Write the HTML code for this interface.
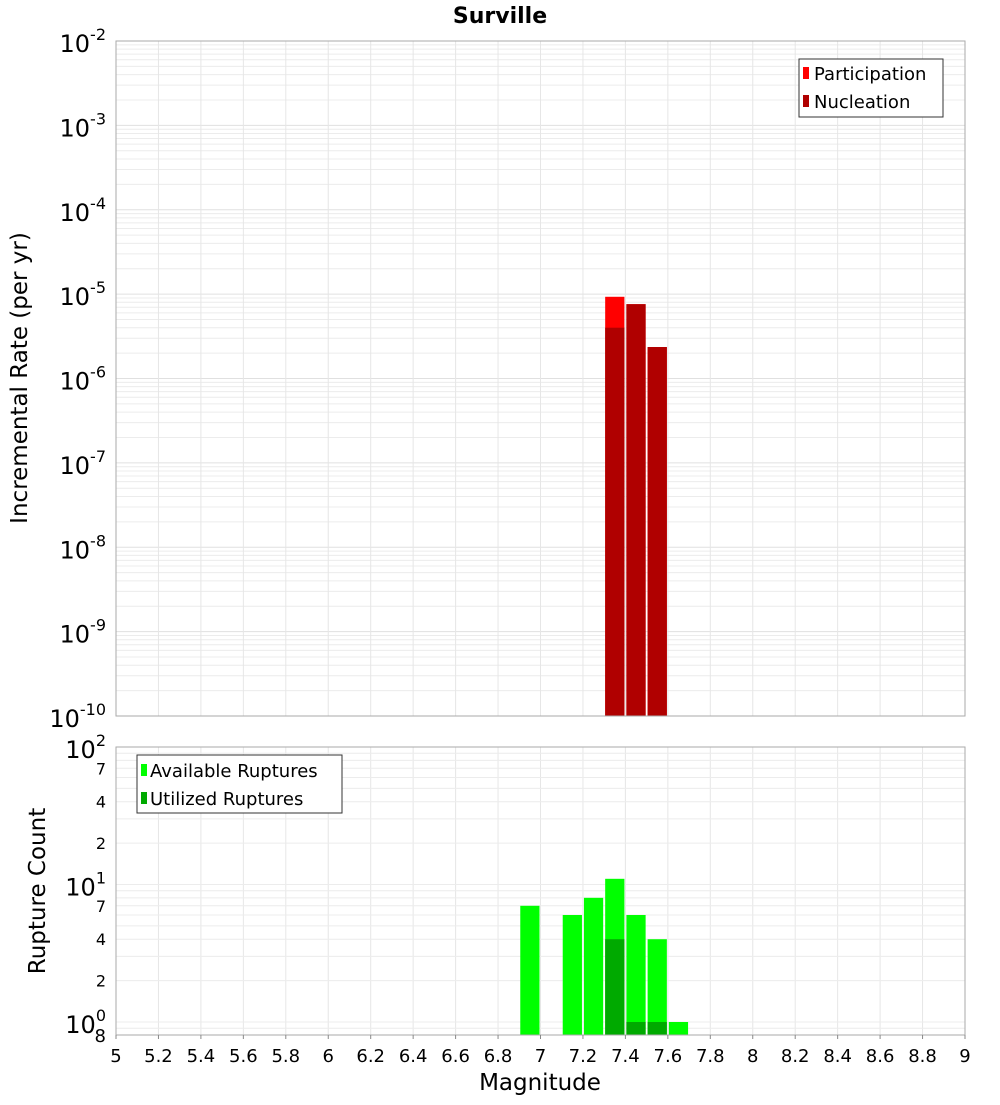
<!DOCTYPE html>
<html><head><meta charset="utf-8"><style>
body{margin:0;background:#fff;font-family:"Liberation Sans","DejaVu Sans",sans-serif}
svg text{font-family:"DejaVu Sans","Liberation Sans",sans-serif}
</style></head><body>
<svg id="c" width="1000" height="1100" xmlns="http://www.w3.org/2000/svg">
<rect width="1000" height="1100" fill="#fff"/>
<text x="500" y="23" text-anchor="middle" font-size="22" font-weight="bold">Surville</text>
<g id="top"></g><g id="bot"></g>
<text transform="translate(27,378) rotate(-90)" text-anchor="middle" font-size="23">Incremental Rate (per yr)</text>
<text transform="translate(45,891) rotate(-90)" text-anchor="middle" font-size="23">Rupture Count</text>
<text x="540" y="1090" text-anchor="middle" font-size="23">Magnitude</text>
</svg>
<script>
const mags=[7.35,7.45,7.55];
const participation=[9.3e-6,7.6e-6,2.36e-6];
const nucleation=[4.0e-6,7.6e-6,2.36e-6];
const countMags=[6.95,7.15,7.25,7.35,7.45,7.55,7.65];
const available=[7,6,8,11,6,4,1];
const utilMags=[7.35,7.45,7.55];
const utilized=[4,1,1];
const xTicks=["5","5.2","5.4","5.6","5.8","6","6.2","6.4","6.6","6.8","7","7.2","7.4","7.6","7.8","8","8.2","8.4","8.6","8.8","9"];

const NS="http://www.w3.org/2000/svg";
const L=116,R=965;
const X=m=>L+(m-5)/4*(R-L);
const T0=41,T1=716; const YT=v=>T0+(-2-Math.log10(v))*(T1-T0)/8;
const B0=747,B1=1035; const D=137.5; const YB=v=>B0+(2-Math.log10(v))*D;
function mk(p,tag,a){const e=document.createElementNS(NS,tag);for(const k in a)e.setAttribute(k,a[k]);p.appendChild(e);return e;}
const gTop=document.getElementById('top'),gBot=document.getElementById('bot');

for(let d=-10;d<-2;d++)for(let k=1;k<10;k++){const y=YT(k*Math.pow(10,d));
 const l=mk(gTop,'line',{x1:L,x2:R,y1:y,y2:y,stroke:k==1?'#e0e0e0':'#ececec','stroke-width':1});
 
 }
xTicks.forEach((t,i)=>{const x=X(+t);[gTop,gBot].forEach((g,j)=>{
 const l=mk(g,'line',{x1:x,x2:x,y1:j?B0:T0,y2:j?B1:T1,stroke:'#e6e6e6'});
 
 });});
for(let d=-10;d<=-2;d++){const y=YT(Math.pow(10,d));
 const t=mk(gTop,'text',{x:106,y:y+11,'text-anchor':'end','font-size':24});
 
 
 t.textContent='10';const s=mk(t,'tspan',{dy:-12,'font-size':16});s.textContent=String(d);}
const w=(R-L)/40;
mags.forEach((m,i)=>{
 const y=YT(participation[i]);const r=mk(gTop,'rect',{x:X(m)-w/2+1,y:y,width:w-2,height:T1-y,fill:'#ff0000'});
 
 
 const y2=YT(nucleation[i]);const r2=mk(gTop,'rect',{x:X(m)-w/2+1,y:y2,width:w-2,height:T1-y2,fill:'#b00000'});
 
 });
mk(gTop,'rect',{x:L,y:T0,width:R-L,height:T1-T0,fill:'none',stroke:'#aaa'});
const lg=mk(gTop,'g',{});


mk(lg,'rect',{x:799,y:59,width:144,height:58,fill:'#fff',stroke:'#333'});
[['Participation','#ff0000',73],['Nucleation','#b00000',101]].forEach(([n,c,y])=>{
 mk(lg,'rect',{x:803,y:y-6,width:6,height:12,fill:c});
 const t=mk(lg,'text',{x:814,y:y+7,'font-size':18});t.textContent=n;
 
 });

for(let d=-1;d<2;d++)for(let k=1;k<10;k++){const v=k*Math.pow(10,d);const y=YB(v);if(y>B1||y<B0)continue;
 const l=mk(gBot,'line',{x1:L,x2:R,y1:y,y2:y,stroke:'#ececec'});
 
 }
[[100,'10','2'],[7e1,'7'],[4e1,'4'],[2e1,'2'],[10,'10','1'],[7,'7'],[4,'4'],[2,'2'],[1,'10','0']].forEach(([v,a,e])=>{
 const y=YB(v);const t=mk(gBot,'text',{x:106,y:e?y+11:y+6,'text-anchor':'end','font-size':e?24:16});
 
 
 t.textContent=a;if(e){const s=mk(t,'tspan',{dy:-12,'font-size':16});s.textContent=e;}});
const t8=mk(gBot,'text',{x:106,y:1042,'text-anchor':'end','font-size':18});t8.textContent='8';


countMags.forEach((m,i)=>{const y=YB(available[i]);
 const r=mk(gBot,'rect',{x:X(m)-w/2+1,y:y,width:w-2,height:B1-y,fill:'#00ff00'});
 
 });
utilMags.forEach((m,i)=>{const y=YB(utilized[i]);
 const r=mk(gBot,'rect',{x:X(m)-w/2+1,y:y,width:w-2,height:B1-y,fill:'#00aa00'});
 
 });
mk(gBot,'rect',{x:L,y:B0,width:R-L,height:B1-B0,fill:'none',stroke:'#aaa'});
const lb=mk(gBot,'g',{});


mk(lb,'rect',{x:137,y:755,width:205,height:58,fill:'#fff',stroke:'#333'});
[['Available Ruptures','#00ff00',770],['Utilized Ruptures','#00aa00',798]].forEach(([n,c,y])=>{
 mk(lb,'rect',{x:141,y:y-6,width:6,height:12,fill:c});
 const t=mk(lb,'text',{x:150,y:y+7,'font-size':18});t.textContent=n;
 
 });
xTicks.forEach(t=>{const x=X(+t);
 mk(gBot,'line',{x1:x,x2:x,y1:B1,y2:B1+4,stroke:'#888'});
 const e=mk(gBot,'text',{x:x,y:1062,'text-anchor':'middle','font-size':18});e.textContent=t;
 
 });
</script>
</body></html>
